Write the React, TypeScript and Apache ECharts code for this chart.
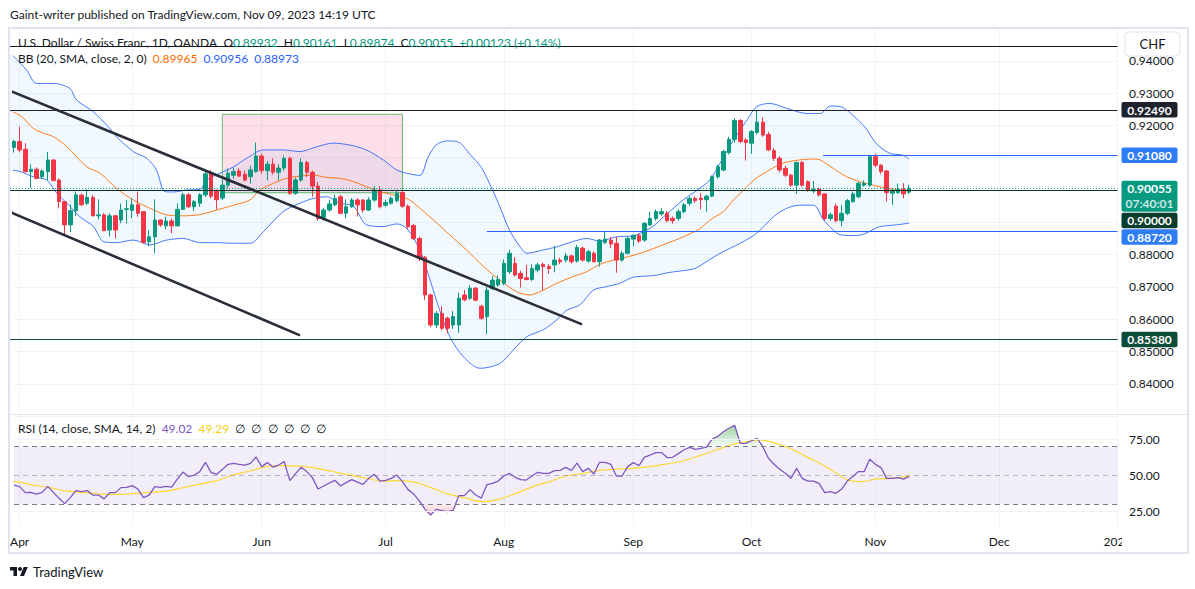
import React, { useEffect, useRef } from 'react';
import * as echarts from 'echarts';

const FONT = 'Lato, "Noto Sans", sans-serif';

// daily bars, 31 Mar 2023 .. 9 Nov 2023: open, high, low, close
const ohlc: number[][] = [
  [0.9132, 0.9155, 0.9116, 0.915], [0.915, 0.9196, 0.9116, 0.9124], [0.9126, 0.9145, 0.9054, 0.9057],
  [0.9057, 0.908, 0.9007, 0.9064], [0.9064, 0.907, 0.9033, 0.9036], [0.9041, 0.9064, 0.9033, 0.9059],
  [0.9057, 0.9118, 0.903, 0.9093], [0.9093, 0.9095, 0.9029, 0.9029], [0.9031, 0.9036, 0.8943, 0.8964],
  [0.8964, 0.8966, 0.8861, 0.8892], [0.8892, 0.8955, 0.887, 0.8936], [0.8936, 0.8995, 0.892, 0.8985],
  [0.8984, 0.899, 0.895, 0.8954], [0.8959, 0.9002, 0.8954, 0.8977], [0.8977, 0.8985, 0.892, 0.892],
  [0.892, 0.8971, 0.8909, 0.8923], [0.8923, 0.8928, 0.8874, 0.8874], [0.8876, 0.8928, 0.8856, 0.892],
  [0.892, 0.8923, 0.885, 0.8876], [0.8907, 0.8958, 0.8897, 0.8938], [0.894, 0.8969, 0.8897, 0.8942],
  [0.8937, 0.8975, 0.8913, 0.8954], [0.8954, 0.8995, 0.8917, 0.8928], [0.8933, 0.8933, 0.8833, 0.8838],
  [0.884, 0.8875, 0.8825, 0.8855], [0.8855, 0.8971, 0.8804, 0.8907], [0.8907, 0.8909, 0.8886, 0.8892],
  [0.8889, 0.8917, 0.8878, 0.8904], [0.8904, 0.8912, 0.8866, 0.8889], [0.8889, 0.8959, 0.8887, 0.894],
  [0.894, 0.8992, 0.894, 0.8985], [0.8985, 0.899, 0.8945, 0.8948], [0.8948, 0.8969, 0.8935, 0.8964],
  [0.8959, 0.899, 0.8948, 0.8985], [0.8985, 0.9062, 0.8978, 0.905], [0.9054, 0.9062, 0.8974, 0.8981],
  [0.8998, 0.9002, 0.894, 0.897], [0.8975, 0.9031, 0.8969, 0.9015], [0.9015, 0.9066, 0.9005, 0.9052],
  [0.9046, 0.907, 0.9035, 0.9057], [0.9059, 0.9067, 0.904, 0.9043], [0.9049, 0.906, 0.9027, 0.9031],
  [0.9041, 0.9075, 0.902, 0.9062], [0.9057, 0.9147, 0.9054, 0.9105], [0.9105, 0.9112, 0.905, 0.906],
  [0.906, 0.909, 0.903, 0.908], [0.908, 0.9098, 0.9048, 0.9055], [0.9055, 0.908, 0.903, 0.9068],
  [0.9068, 0.9107, 0.906, 0.9098], [0.9098, 0.9104, 0.8985, 0.899], [0.899, 0.9038, 0.8985, 0.9031],
  [0.9031, 0.9098, 0.9025, 0.9085], [0.9085, 0.909, 0.904, 0.9055], [0.9055, 0.906, 0.8979, 0.9012],
  [0.9012, 0.9025, 0.8905, 0.8912], [0.8915, 0.8945, 0.8905, 0.8938], [0.8938, 0.897, 0.8933, 0.8957],
  [0.8954, 0.8985, 0.895, 0.8974], [0.8979, 0.8985, 0.8925, 0.8928], [0.8928, 0.8971, 0.8912, 0.8948],
  [0.8948, 0.8975, 0.8945, 0.8969], [0.8969, 0.8975, 0.8918, 0.8954], [0.8969, 0.8972, 0.893, 0.8938],
  [0.8938, 0.8978, 0.8935, 0.8969], [0.8969, 0.9012, 0.8964, 0.9], [0.9, 0.9012, 0.8943, 0.8948],
  [0.8953, 0.897, 0.8948, 0.8961], [0.8959, 0.898, 0.8955, 0.8974], [0.8967, 0.9, 0.8962, 0.899],
  [0.8992, 0.8998, 0.8945, 0.895], [0.895, 0.8955, 0.888, 0.8886], [0.889, 0.8895, 0.8845, 0.885],
  [0.885, 0.8855, 0.878, 0.8788], [0.8792, 0.8795, 0.8659, 0.8675], [0.8675, 0.868, 0.8575, 0.8582],
  [0.8582, 0.8625, 0.8572, 0.8618], [0.8618, 0.864, 0.8565, 0.8572], [0.8603, 0.8608, 0.8556, 0.8572],
  [0.8582, 0.8625, 0.857, 0.8608], [0.8582, 0.8682, 0.8558, 0.8665], [0.8675, 0.869, 0.8655, 0.866],
  [0.8665, 0.8705, 0.866, 0.8696], [0.8696, 0.87, 0.8655, 0.8659], [0.864, 0.8645, 0.8598, 0.8603],
  [0.8608, 0.87, 0.8554, 0.869], [0.8695, 0.8734, 0.869, 0.8721], [0.8706, 0.8735, 0.87, 0.8723],
  [0.8711, 0.8785, 0.8705, 0.8773], [0.8747, 0.8815, 0.874, 0.8804], [0.8773, 0.8792, 0.8732, 0.8737],
  [0.8742, 0.875, 0.8698, 0.8726], [0.8728, 0.8768, 0.872, 0.8723], [0.8723, 0.877, 0.8718, 0.8757],
  [0.8752, 0.8775, 0.8745, 0.8768], [0.877, 0.8775, 0.869, 0.8763], [0.8763, 0.877, 0.874, 0.8757],
  [0.8768, 0.8827, 0.8745, 0.8783], [0.8783, 0.879, 0.877, 0.8778], [0.8783, 0.8805, 0.8775, 0.8796],
  [0.8796, 0.88, 0.8772, 0.8778], [0.878, 0.883, 0.8775, 0.8822], [0.882, 0.8825, 0.8778, 0.8783],
  [0.878, 0.8815, 0.8775, 0.8809], [0.8804, 0.881, 0.8775, 0.8778], [0.8778, 0.8848, 0.8763, 0.8845],
  [0.8838, 0.8873, 0.8832, 0.8848], [0.8845, 0.8855, 0.882, 0.8833], [0.8835, 0.8855, 0.8744, 0.8783],
  [0.8783, 0.881, 0.8778, 0.8804], [0.8804, 0.8855, 0.88, 0.885], [0.8848, 0.8862, 0.8825, 0.886],
  [0.886, 0.8865, 0.8836, 0.8842], [0.8845, 0.89, 0.884, 0.8897], [0.8892, 0.8933, 0.8888, 0.8912],
  [0.8912, 0.894, 0.8905, 0.8933], [0.8926, 0.8945, 0.892, 0.8933], [0.8928, 0.8935, 0.89, 0.8905],
  [0.8912, 0.8918, 0.8896, 0.8905], [0.8912, 0.894, 0.8905, 0.8933], [0.8933, 0.896, 0.8928, 0.8954],
  [0.8959, 0.898, 0.8952, 0.8974], [0.8974, 0.898, 0.896, 0.8967], [0.8975, 0.899, 0.894, 0.897],
  [0.897, 0.8985, 0.8933, 0.8981], [0.8981, 0.9045, 0.8978, 0.9041], [0.9041, 0.9078, 0.9035, 0.9072],
  [0.9062, 0.9125, 0.9058, 0.9119], [0.9116, 0.9165, 0.911, 0.9157], [0.9157, 0.9222, 0.9147, 0.9215],
  [0.9215, 0.922, 0.9145, 0.915], [0.9155, 0.916, 0.9091, 0.9147], [0.9145, 0.9185, 0.9112, 0.9181],
  [0.9178, 0.9245, 0.9172, 0.921], [0.921, 0.9225, 0.9165, 0.917], [0.9172, 0.918, 0.912, 0.9124],
  [0.9122, 0.913, 0.909, 0.9098], [0.9098, 0.9105, 0.9055, 0.9062], [0.9067, 0.9075, 0.904, 0.9046],
  [0.9046, 0.905, 0.901, 0.9015], [0.9015, 0.9088, 0.8988, 0.9085], [0.9085, 0.909, 0.901, 0.9015],
  [0.9026, 0.903, 0.8995, 0.9], [0.8997, 0.9028, 0.899, 0.9002], [0.9002, 0.9008, 0.898, 0.8985],
  [0.8988, 0.899, 0.8905, 0.8912], [0.8912, 0.893, 0.8905, 0.8923], [0.895, 0.8958, 0.89, 0.8905],
  [0.8905, 0.8954, 0.8888, 0.8928], [0.8928, 0.8972, 0.8922, 0.8967], [0.8964, 0.8995, 0.896, 0.8988],
  [0.8979, 0.9025, 0.8975, 0.9021], [0.9015, 0.903, 0.901, 0.9021], [0.9015, 0.9108, 0.901, 0.9103],
  [0.9103, 0.9112, 0.907, 0.9077], [0.9077, 0.908, 0.905, 0.9057], [0.9059, 0.9062, 0.8964, 0.8992],
  [0.899, 0.9005, 0.8954, 0.8997], [0.8992, 0.902, 0.8988, 0.9002], [0.9002, 0.9021, 0.8974, 0.8988],
  [0.89932, 0.90161, 0.89874, 0.90055],
];

// Bollinger Bands (20, 2): [bar index, price]
const bbUpper: number[][] = [
  [-0.7, 0.9425], [1, 0.9395], [2.3, 0.937], [4, 0.933], [7, 0.933], [9.9, 0.9315], [11.1, 0.9279],
  [14.1, 0.9242], [17, 0.9191], [18.2, 0.9165], [21.2, 0.9119], [23.6, 0.9098], [25.3, 0.9062],
  [26.8, 0.8995], [28.3, 0.8994], [30.7, 0.9], [33, 0.9002], [34.2, 0.9031], [36.6, 0.9052], [39, 0.9072],
  [41.3, 0.9098], [44.3, 0.9124], [47.8, 0.9124], [50.8, 0.9119], [53.8, 0.9134], [56.7, 0.9145],
  [59.7, 0.9139], [62.6, 0.9124], [65.6, 0.9093], [68, 0.9062], [69.8, 0.9052], [72.1, 0.9045],
  [73.5, 0.91], [75, 0.914], [77, 0.9152], [79, 0.9148], [81, 0.911], [83, 0.907], [85, 0.9],
  [86.3, 0.8948], [88, 0.8876], [89.9, 0.8824], [91.1, 0.8804], [93.9, 0.8814], [96.4, 0.8824],
  [99.2, 0.884], [101.7, 0.885], [104.1, 0.8842], [107, 0.8855], [110, 0.8858], [111.2, 0.8866],
  [113.3, 0.8885], [115.9, 0.8925], [118.9, 0.897], [121.8, 0.9005], [123.6, 0.9031], [125.4, 0.9083],
  [127.8, 0.9155], [130.2, 0.9217], [131.9, 0.9258], [134.3, 0.9268], [137.2, 0.9253], [140.8, 0.9237],
  [143.2, 0.9237], [145, 0.926], [146.8, 0.9258], [149.6, 0.9222], [151.3, 0.9191], [153.1, 0.9145],
  [155.5, 0.9114], [157.8, 0.9108], [159, 0.90956],
];
const bbBasis: number[][] = [
  [-0.7, 0.9246], [1.4, 0.9227], [3.4, 0.9191], [5.2, 0.9176], [7, 0.9165], [9.4, 0.9134], [12.9, 0.9072],
  [15.3, 0.9052], [18.2, 0.9005], [21.2, 0.8969], [24.2, 0.8943], [27.1, 0.8923], [30.1, 0.892],
  [33, 0.8924], [36, 0.8938], [39, 0.8953], [41.9, 0.8969], [43.7, 0.9], [46.1, 0.9021], [48.4, 0.9036],
  [50.8, 0.9043], [53.2, 0.9046], [55.5, 0.9039], [57.9, 0.9036], [60.3, 0.9026], [62.6, 0.901],
  [65, 0.8995], [67.4, 0.8985], [69.7, 0.8974], [71.2, 0.8957], [74.5, 0.8907], [77.4, 0.8861],
  [80.4, 0.8814], [83.4, 0.8763], [86.3, 0.8721], [89.3, 0.8685], [91.6, 0.8675], [93.4, 0.8685],
  [96.4, 0.8711], [99.3, 0.8732], [101.7, 0.8747], [104.1, 0.877], [106.5, 0.8783], [108.8, 0.8792],
  [111.2, 0.8804], [113.6, 0.8819], [116, 0.8835], [118.9, 0.8855], [121.8, 0.888], [123.6, 0.8907],
  [126, 0.8933], [127.8, 0.8969], [129.6, 0.9], [131.8, 0.9036], [134.2, 0.9062], [136.5, 0.9083],
  [139.5, 0.9093], [142.4, 0.9096], [143.2, 0.9093], [145.5, 0.9067], [147.9, 0.9041], [150.2, 0.9026],
  [152.6, 0.9015], [155, 0.9005], [157.4, 0.9], [159, 0.89965],
];
const bbLower: number[][] = [
  [-0.7, 0.9062], [1.1, 0.9057], [3.4, 0.9041], [5.8, 0.9031], [7.6, 0.899], [9.4, 0.8959], [11.7, 0.8917],
  [14.1, 0.8887], [15.9, 0.884], [18.2, 0.8837], [21.2, 0.8845], [24.2, 0.883], [27.1, 0.8845],
  [30.1, 0.885], [33, 0.8837], [36, 0.8837], [39, 0.8835], [41.9, 0.8835], [44.3, 0.8871], [47.8, 0.8933],
  [50.8, 0.8959], [53.2, 0.8974], [55.5, 0.8979], [57.9, 0.8959], [60.3, 0.895], [62.6, 0.8892],
  [65.6, 0.8887], [68, 0.8895], [69.8, 0.888], [72.1, 0.8814], [73.9, 0.8721], [75.6, 0.8628],
  [77.4, 0.8546], [79.8, 0.8484], [82.8, 0.8448], [86.3, 0.8463], [88.7, 0.8505], [91.1, 0.8546],
  [94, 0.8567], [96.4, 0.8598], [98.2, 0.8628], [100.5, 0.8644], [102.9, 0.869], [105.3, 0.8701],
  [107.6, 0.8711], [110, 0.873], [113.6, 0.8735], [116.5, 0.8745], [120.6, 0.8755], [121.8, 0.8765],
  [125.4, 0.8804], [129, 0.8835], [131.9, 0.8866], [134.9, 0.8917], [137.2, 0.8943], [139.6, 0.8953],
  [142, 0.8953], [143.8, 0.8907], [145.5, 0.8876], [146.8, 0.8861], [149.6, 0.8859], [151.3, 0.8866],
  [153.7, 0.8886], [156.7, 0.8892], [159, 0.88973],
];

// RSI(14) per bar
const rsi = [
  43.2, 42.1, 37.9, 38.1, 36.9, 38.1, 42.3, 38.1, 33.9, 30.2,
  34.4, 39.3, 38.6, 39.3, 36.2, 36.2, 33.5, 37.9, 37.9, 41.4,
  41.6, 42.8, 40.4, 34.4, 36.2, 42.1, 41.6, 42.3, 41.8, 47.4,
  52.3, 49.1, 50.2, 52.6, 59.1, 52.1, 50.7, 54.0, 57.7, 58.4,
  57.7, 57.2, 58.4, 62.8, 56.1, 58.9, 55.8, 57.2, 59.6, 46.3,
  51.2, 55.6, 52.6, 48.4, 40.4, 42.5, 44.6, 46.5, 42.5, 44.9,
  47.0, 45.3, 43.7, 47.9, 50.7, 46.0, 46.5, 47.9, 50.2, 45.6,
  40.0, 36.9, 32.1, 26.2, 22.3, 26.2, 25.3, 24.6, 25.5, 35.8,
  35.8, 40.0, 36.2, 34.1, 43.5, 44.4, 46.0, 49.5, 51.4, 48.6,
  47.0, 46.7, 49.5, 52.1, 51.4, 51.4, 53.3, 53.5, 55.6, 53.5,
  58.6, 52.6, 54.9, 50.9, 59.1, 59.0, 57.7, 49.5, 49.5, 56.1,
  58.9, 56.8, 62.8, 64.2, 65.9, 65.9, 62.4, 62.6, 65.2, 67.9,
  69.6, 68.2, 68.9, 69.8, 75.4, 77.3, 80.5, 82.9, 85.0, 72.4,
  72.4, 74.2, 75.9, 70.0, 61.9, 57.7, 54.2, 51.4, 47.9, 54.9,
  47.9, 46.0, 46.0, 44.4, 37.9, 38.6, 37.4, 40.4, 46.0, 49.1,
  52.6, 52.6, 61.2, 57.7, 55.4, 47.9, 47.9, 48.4, 47.4, 49.02,
];

// RSI moving average (SMA 14), [bar index, value]
const rsiSma: number[][] = [
  [-0.7, 45.6], [0.2, 45.6], [3.4, 43.2], [6.4, 41.4], [9.3, 39.0], [12.3, 37.9], [15.3, 36.9], [18.2, 36.7],
  [21.2, 37.2], [24.1, 38.1], [27.1, 39.0], [30.1, 41.4], [33, 43.9], [36, 46.3], [38.9, 50.2],
  [41.9, 53.0], [44.9, 56.1], [47.8, 56.8], [50.8, 56.5], [53.7, 54.9], [56.7, 52.6], [59.6, 50.2],
  [62.6, 47.9], [65.6, 46.0], [68.5, 46.3], [71.5, 44.9], [74.4, 40.9], [77.4, 36.7], [80.4, 33.9],
  [83.3, 31.6], [86.3, 33.5], [89.2, 37.4], [92.2, 42.1], [95.1, 45.6], [98.1, 49.5], [101.1, 51.4],
  [104, 53.4], [107, 54.4], [109.9, 54.9], [112.9, 56.1], [115.9, 57.9], [118.8, 60.0], [121.8, 63.8],
  [124.7, 67.7], [127.7, 71.7], [130.7, 74.0], [132.4, 74.7], [134.8, 73.1], [137.8, 68.9], [140.7, 63.1],
  [143.7, 57.2], [146.6, 50.2], [148.4, 46.3], [150.8, 45.6], [152.6, 47.2], [155.5, 47.9], [159, 49.29],
];

// drawings
const trendUpper = [[-0.7, 0.9307], [100.9, 0.8584]];
const trendLower = [[-0.7, 0.8932], [50.8, 0.855]];
const positionBox = [[37, 0.92344], [69, 0.89916]];
const levelPrices = [0.9446, 0.9249, 0.9108, 0.9, 0.8872, 0.8538];
const levelStarts = [-0.7, -0.7, 143.7, -0.7, 84, -0.7];
const lastPrice = 0.90055;
const countdown = '07:40:01';
const tagPrices = [0.9249, 0.9108, 0.90055, 0.9, 0.8872, 0.8538];

const levelColors = ['#131722', '#1e222d', '#2962ff', '#0b3327', '#2962ff', '#0b4d3b'];
const tagColors = ['#1e222d', '#2e7cf6', '#089981', '#0b3d2e', '#2e7cf6', '#0b4d3b'];

const MONTHS = ['Jan', 'Feb', 'Mar', 'Apr', 'May', 'Jun', 'Jul', 'Aug', 'Sep', 'Oct', 'Nov', 'Dec'];
const BAR_COUNT = 197;
const LAST_INDEX = BAR_COUNT - 1;

function tradingDays(count: number): string[] {
  const out: string[] = [];
  const d = new Date(Date.UTC(2023, 2, 31));
  while (out.length < count) {
    const wd = d.getUTCDay();
    if (wd !== 0 && wd !== 6) out.push(d.toISOString().slice(0, 10));
    d.setUTCDate(d.getUTCDate() + 1);
  }
  return out;
}

const dates = tradingDays(BAR_COUNT);
const isMonthStart = (idx: number) => idx > 0 && dates[idx].slice(0, 7) !== dates[idx - 1].slice(0, 7);

function buildOption() {
  const grid = { color: '#f0f3fa' };
  const text = '#131722';

  return {
    animation: false,
    backgroundColor: '#ffffff',
    textStyle: { fontFamily: FONT },
    grid: [
      { left: 14, right: 77.5, top: 28.5, height: 387.6 },
      { left: 14, right: 77.5, top: 415, height: 112 },
    ],
    xAxis: [
      {
        type: 'category', gridIndex: 0, data: dates, boundaryGap: false,
        axisLine: { show: false }, axisTick: { show: false }, axisLabel: { show: false },
        splitLine: { show: true, interval: (i: number) => isMonthStart(i), lineStyle: grid },
      },
      {
        type: 'category', gridIndex: 1, data: dates, boundaryGap: false,
        axisLine: { show: false }, axisTick: { show: false },
        axisLabel: {
          interval: (i: number) => isMonthStart(i),
          formatter: (v: string) => {
            const m = +v.slice(5, 7);
            return m === 1 ? v.slice(0, 4) : MONTHS[m - 1];
          },
          color: text, fontSize: 12, margin: 8, fontFamily: FONT,
        },
        splitLine: { show: true, interval: (i: number) => isMonthStart(i), lineStyle: grid },
      },
      { type: 'value', gridIndex: 0, min: 0, max: LAST_INDEX, show: false },
      { type: 'value', gridIndex: 1, min: 0, max: LAST_INDEX, show: false },
    ],
    yAxis: [
      {
        type: 'value', gridIndex: 0, position: 'right', min: 0.83, max: 0.95, interval: 0.01,
        axisLine: { show: false }, axisTick: { show: false },
        axisLabel: {
          formatter: (v: number) => (v < 0.835 || v > 0.945 ? '' : v.toFixed(5)),
          color: text, fontSize: 12, margin: 11.5, fontFamily: FONT,
        },
        splitLine: { lineStyle: grid },
      },
      {
        type: 'value', gridIndex: 1, position: 'right', min: 13.85, max: 92.2,
        axisLine: { show: false }, axisTick: { show: false },
        axisLabel: {
          customValues: [25, 50, 75],
          formatter: (v: number) => v.toFixed(2),
          color: text, fontSize: 12, margin: 11.5, fontFamily: FONT,
        },
        splitLine: { show: false },
      },
    ],
    series: [
      {
        type: 'custom', name: 'bbFill', xAxisIndex: 2, yAxisIndex: 0, silent: true, z: 1,
        data: [[0, 0.9]],
        renderItem: (_p: any, api: any) => {
          const pts = bbUpper.map((d) => api.coord(d)).concat(bbLower.slice().reverse().map((d) => api.coord(d)));
          return { type: 'polygon', shape: { points: pts }, style: { fill: 'rgba(33,150,243,0.06)' } };
        },
      },
      ...[bbUpper, bbBasis, bbLower].map((d, k) => ({
        type: 'line', xAxisIndex: 2, yAxisIndex: 0, data: d, smooth: 0.3, showSymbol: false, clip: false,
        silent: true, z: 2,
        lineStyle: { color: k === 1 ? '#ff6d00' : '#2962ff', width: 1, opacity: k === 1 ? 0.9 : 0.85 },
      })),
      {
        type: 'candlestick', xAxisIndex: 0, yAxisIndex: 0, barWidth: 4, z: 3,
        data: ohlc.map(([o, h, l, c]) => [o, c, l, h]),
        itemStyle: { color: '#089981', color0: '#f23645', borderColor: '#089981', borderColor0: '#f23645', borderWidth: 1 },
      },
      {
        type: 'custom', name: 'levels', xAxisIndex: 2, yAxisIndex: 0, silent: true, z: 4,
        data: [[0, 0.9]],
        renderItem: (_p: any, api: any) => {
          const children: any[] = levelPrices.map((p, k) => {
            const [x1, y] = api.coord([levelStarts[k], p]);
            const [x2] = api.coord([LAST_INDEX, p]);
            const yy = Math.round(y) + 0.5;
            return { type: 'line', shape: { x1, y1: yy, x2, y2: yy }, style: { stroke: levelColors[k], lineWidth: 1 } };
          });
          const [lx1, ly] = api.coord([-0.7, lastPrice]);
          const [lx2] = api.coord([LAST_INDEX, lastPrice]);
          const lyy = Math.round(ly) + 0.5;
          children.push({ type: 'line', shape: { x1: lx1, y1: lyy, x2: lx2, y2: lyy }, style: { stroke: '#089981', lineWidth: 1, lineDash: [1, 2] } });
          return { type: 'group', children };
        },
      },
      {
        type: 'line', xAxisIndex: 2, yAxisIndex: 0, data: trendUpper, showSymbol: false, clip: false, silent: true, z: 4,
        lineStyle: { color: '#2a2e39', width: 2.6 },
        markArea: {
          silent: true,
          itemStyle: { color: 'rgba(233,30,99,0.14)', borderColor: '#66bb6a', borderWidth: 1 },
          data: [[{ coord: positionBox[0] }, { coord: positionBox[1] }]],
        },
      },
      {
        type: 'line', xAxisIndex: 2, yAxisIndex: 0, data: trendLower, showSymbol: false, clip: false, silent: true, z: 4,
        lineStyle: { color: '#2a2e39', width: 2.6 },
      },
      {
        type: 'custom', name: 'tags', xAxisIndex: 2, yAxisIndex: 0, silent: true, z: 10,
        data: [[LAST_INDEX, 0.9]],
        renderItem: (_p: any, api: any) => {
          let prevBottom = -Infinity;
          const children: any[] = [];
          tagPrices.forEach((p, k) => {
            const [x, y] = api.coord([LAST_INDEX, p]);
            const twoLine = p === lastPrice;
            const h = twoLine ? 31 : 15.5;
            const top = Math.max(y - 7.5, prevBottom + 1);
            prevBottom = top + h;
            children.push({ type: 'rect', shape: { x: x + 4, y: top, width: 56, height: h, r: 2 }, style: { fill: tagColors[k] } });
            children.push({
              type: 'text',
              style: { text: p.toFixed(5), x: x + 32, y: top + 8, align: 'center', verticalAlign: 'middle', fill: '#ffffff', font: `bold 12px ${FONT}` },
            });
            if (twoLine) {
              children.push({
                type: 'text',
                style: { text: countdown, x: x + 32, y: top + 23, align: 'center', verticalAlign: 'middle', fill: 'rgba(255,255,255,0.8)', font: `bold 12px ${FONT}` },
              });
            }
          });
          return { type: 'group', children };
        },
      },
      {
        type: 'line', xAxisIndex: 1, yAxisIndex: 1, data: rsi, showSymbol: false, silent: true, z: 4,
        lineStyle: { color: '#7e57c2', width: 1.3 },
        markArea: { silent: true, itemStyle: { color: 'rgba(126,87,194,0.1)' }, data: [[{ yAxis: 30 }, { yAxis: 70 }]] },
        markLine: {
          symbol: ['none', 'none'], silent: true, label: { show: false },
          data: [
            { yAxis: 75, lineStyle: { color: '#f0f3fa', type: 'solid', width: 1 } },
            { yAxis: 25, lineStyle: { color: '#f0f3fa', type: 'solid', width: 1 } },
            { yAxis: 70, lineStyle: { color: '#787b86', type: [5, 4], width: 1 } },
            { yAxis: 50, lineStyle: { color: 'rgba(120,123,134,0.5)', type: [5, 4], width: 1 } },
            { yAxis: 30, lineStyle: { color: '#787b86', type: [5, 4], width: 1 } },
          ],
        },
      },
      {
        type: 'line', xAxisIndex: 3, yAxisIndex: 1, data: rsiSma, smooth: 0.4, showSymbol: false, clip: false, silent: true, z: 3,
        lineStyle: { color: '#fdd835', width: 1.2 },
      },
      {
        type: 'line', xAxisIndex: 1, yAxisIndex: 1, stack: 'ob', data: rsi.map(() => 70), showSymbol: false, silent: true,
        lineStyle: { opacity: 0 }, z: 2,
      },
      {
        type: 'line', xAxisIndex: 1, yAxisIndex: 1, stack: 'ob', data: rsi.map((r) => Math.max(r - 70, 0)), showSymbol: false, silent: true,
        lineStyle: { opacity: 0 }, z: 2,
        areaStyle: {
          opacity: 1,
          color: new echarts.graphic.LinearGradient(0, 0, 0, 1, [
            { offset: 0, color: 'rgba(76,175,80,0.55)' },
            { offset: 1, color: 'rgba(76,175,80,0.05)' },
          ]),
        },
      },
      {
        type: 'line', xAxisIndex: 1, yAxisIndex: 1, stack: 'os', data: rsi.map((r) => Math.min(r, 30)), showSymbol: false, silent: true,
        lineStyle: { opacity: 0 }, z: 2,
      },
      {
        type: 'line', xAxisIndex: 1, yAxisIndex: 1, stack: 'os', data: rsi.map((r) => 30 - Math.min(r, 30)), showSymbol: false, silent: true,
        lineStyle: { opacity: 0 }, z: 2,
        areaStyle: {
          opacity: 1,
          color: new echarts.graphic.LinearGradient(0, 0, 0, 1, [
            { offset: 0, color: 'rgba(242,54,69,0.05)' },
            { offset: 1, color: 'rgba(242,54,69,0.35)' },
          ]),
        },
      },
    ],
    graphic: [
      { type: 'rect', z: 100, shape: { x: 1122, y: 530, width: 64, height: 20 }, style: { fill: '#ffffff' } },
      { type: 'rect', z: 101, shape: { x: 9, y: 28, width: 1179, height: 525 }, style: { fill: 'none', stroke: '#e0e3eb', lineWidth: 2 } },
      { type: 'line', z: 101, shape: { x1: 9, y1: 414.5, x2: 1188, y2: 414.5 }, style: { stroke: '#e0e3eb', lineWidth: 1 } },
      {
        type: 'text', z: 101, x: 10, y: 14,
        style: { text: 'Gaint-writer published on TradingView.com, Nov 09, 2023 14:19 UTC', font: `12px ${FONT}`, fill: text, verticalAlign: 'middle' },
      },
      {
        type: 'text', z: 101, x: 18, y: 42,
        style: {
          text: '{n|U.S. Dollar / Swiss Franc, 1D, OANDA}  {k|O}{v|0.89932}  {k|H}{v|0.90161}  {k|L}{v|0.89874}  {k|C}{v|0.90055}  {v|+0.00123 (+0.14%)}',
          verticalAlign: 'middle', font: `12px ${FONT}`, fill: text,
          rich: {
            n: { fill: text, font: `12px ${FONT}` },
            k: { fill: text, font: `12px ${FONT}` },
            v: { fill: '#089981', font: `12px ${FONT}` },
          },
        },
      },
      {
        type: 'text', z: 101, x: 18, y: 58,
        style: {
          text: '{n|BB (20, SMA, close, 2, 0)}  {o|0.89965}  {b|0.90956}  {b|0.88973}',
          verticalAlign: 'middle', font: `12px ${FONT}`, fill: text,
          rich: {
            n: { fill: text, font: `12px ${FONT}` },
            o: { fill: '#ff6d00', font: `12px ${FONT}` },
            b: { fill: '#2962ff', font: `12px ${FONT}` },
          },
        },
      },
      {
        type: 'text', z: 101, x: 18, y: 428,
        style: {
          text: '{n|RSI (14, close, SMA, 14, 2)}  {p|49.02}  {y|49.29}  {g|∅  ∅  ∅  ∅  ∅  ∅}',
          verticalAlign: 'middle', font: `12px ${FONT}`, fill: text,
          rich: {
            n: { fill: text, font: `12px ${FONT}` },
            p: { fill: '#7e57c2', font: `12px ${FONT}` },
            y: { fill: '#f5cf1b', font: `12px ${FONT}` },
            g: { fill: '#131722', font: `12px ${FONT}` },
          },
        },
      },
      { type: 'rect', z: 102, shape: { x: 1125, y: 32, width: 55, height: 24, r: 4 }, style: { fill: '#ffffff', stroke: '#e0e3eb', lineWidth: 1 } },
      {
        type: 'text', z: 103, x: 1152.5, y: 44,
        style: { text: 'CHF', font: `13px ${FONT}`, fill: text, align: 'center', verticalAlign: 'middle' },
      },
      {
        type: 'group', z: 101, x: 10, y: 565, scaleX: 0.5, scaleY: 0.5,
        children: [
          { type: 'tvlogo', style: { fill: text } },
          { type: 'circle', shape: { cx: 20, cy: 8, r: 4 }, style: { fill: text } },
        ],
      },
      {
        type: 'text', z: 101, x: 33, y: 572,
        style: { text: 'TradingView', font: `13px ${FONT}`, fill: text, verticalAlign: 'middle' },
      },
    ],
  };
}

echarts.graphic.registerShape('tvlogo', echarts.graphic.extendPath('M14 22H7V11H0V4h14v18zM28 22h-8l7.5-18h8L28 22z', {}));

export default function App(): React.ReactElement {
  const ref = useRef<HTMLDivElement>(null);

  useEffect(() => {
    if (!ref.current) return;
    const chart = echarts.init(ref.current, null, { renderer: 'svg' });
    chart.setOption(buildOption() as any);
    return () => chart.dispose();
  }, []);

  return (
    <div
      ref={ref}
      style={{ position: 'fixed', left: 0, top: 0, width: 1195, height: 589, background: '#ffffff' }}
    />
  );
}
